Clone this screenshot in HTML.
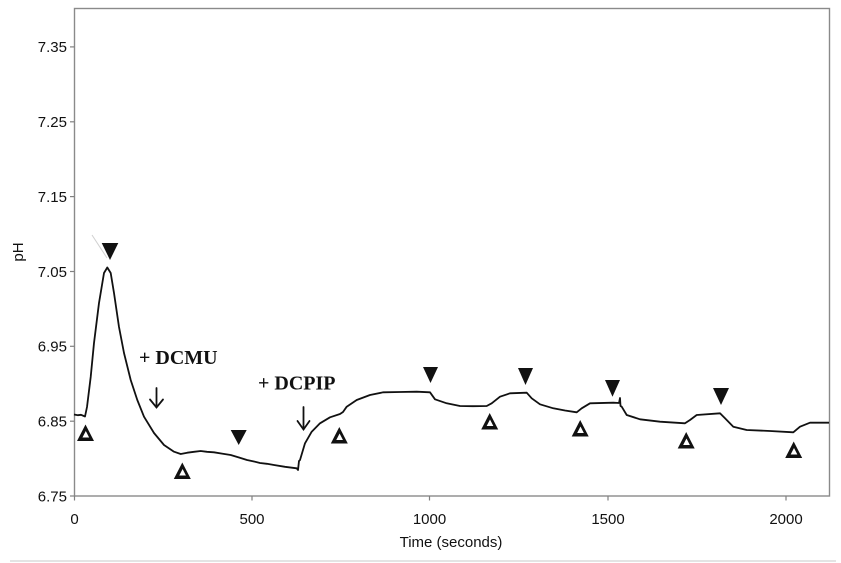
<!DOCTYPE html>
<html>
<head>
<meta charset="utf-8">
<style>
html,body{margin:0;padding:0;background:#fff;}
svg{display:block;}
</style>
</head>
<body>
<svg width="841" height="563" viewBox="0 0 841 563" xmlns="http://www.w3.org/2000/svg">
<rect x="0" y="0" width="841" height="563" fill="#fff"/>
<!-- frame -->
<rect x="74.5" y="8.5" width="755" height="487.5" fill="none" stroke="#8a8a8a" stroke-width="1.4"/>
<!-- ticks -->
<g stroke="#808080" stroke-width="1.2">
<line x1="70" y1="46.9" x2="74.5" y2="46.9"/>
<line x1="70" y1="121.8" x2="74.5" y2="121.8"/>
<line x1="70" y1="196.6" x2="74.5" y2="196.6"/>
<line x1="70" y1="271.5" x2="74.5" y2="271.5"/>
<line x1="70" y1="346.3" x2="74.5" y2="346.3"/>
<line x1="70" y1="421.2" x2="74.5" y2="421.2"/>
<line x1="70" y1="496" x2="74.5" y2="496"/>
<line x1="74.5" y1="496" x2="74.5" y2="500.5"/>
<line x1="252" y1="496" x2="252" y2="500.5"/>
<line x1="429.5" y1="496" x2="429.5" y2="500.5"/>
<line x1="608" y1="496" x2="608" y2="500.5"/>
<line x1="786" y1="496" x2="786" y2="500.5"/>
</g>
<g font-family="'Liberation Sans', Arial, sans-serif" font-size="15" fill="#111" text-anchor="end">
<text x="67" y="52">7.35</text>
<text x="67" y="127">7.25</text>
<text x="67" y="202">7.15</text>
<text x="67" y="277">7.05</text>
<text x="67" y="351.5">6.95</text>
<text x="67" y="426.5">6.85</text>
<text x="67" y="501.5">6.75</text>
</g>
<g font-family="'Liberation Sans', Arial, sans-serif" font-size="15" fill="#111" text-anchor="middle">
<text x="74.5" y="524">0</text>
<text x="252" y="524">500</text>
<text x="429.5" y="524">1000</text>
<text x="608" y="524">1500</text>
<text x="786" y="524">2000</text>
<text x="451" y="547">Time (seconds)</text>
<text x="0" y="0" transform="translate(23,252) rotate(-90)">pH</text>
</g>
<!-- faint line near peak -->
<line x1="92" y1="235" x2="107" y2="258" stroke="#d0d0d0" stroke-width="1"/>
<!-- curve -->
<polyline fill="none" stroke="#111" stroke-width="1.8" stroke-linejoin="round" points="
74,414.5 78,415.2 81,414.8 85,416.5 87,407 90.7,377 94,343 99,303 104,273 107.3,267.5 110.7,273 114,293 119,327 124,353 130.7,380 137.3,400 144,416.7 154,433 164,445 174,451.7 180.7,454 187.3,452.7 194,451.8 200.7,451 207,451.8 214,452.3 222,453.6 230.7,455 239,457.5 247,460 254,461.5 260,463 267,463.8 274,465 285,466.8 296.7,468.3 298,470 299,461 300,460 305,443.3 311.7,431.7 320,423.3 330,417.3 340,414 343,412 346.7,406.7 356.7,400 370,395 383.3,392.3 400,392 416.7,391.7 430,392.3 435,399.3 446.7,403.3 460,406 473,406.2 486.7,406 491.7,403.3 500,396.7 510,393.3 526.7,392.7 531.7,398.3 540,404.3 553.3,408.3 565,410.5 576.7,412.3 581.7,408.3 590,403.3 613.3,402.7 619,403 620,398 620.5,406 621.7,406.7 626.7,415 640,419.3 660,421.7 685,423.3 690,420 696.7,415 720,413.3 725,418.3 733.3,426.7 746.7,430 770,431 793.3,432.3 800,426.7 810,422.7 829,422.7"/>
<!-- open delta markers -->
<path fill="#111" fill-rule="evenodd" d="
M85.5,424.5 L77,441 L94,441 Z M85.8,431 L89.15,437.5 L82.45,437.5 Z
M182.3,462.5 L173.8,479 L190.8,479 Z M182.6,469 L185.95,475.5 L179.25,475.5 Z
M339.3,427 L330.8,443.5 L347.8,443.5 Z M339.6,433.5 L342.95,440 L336.25,440 Z
M489.7,413 L481.2,429.5 L498.2,429.5 Z M490,419.5 L493.35,426 L486.65,426 Z
M580.2,420 L571.7,436.5 L588.7,436.5 Z M580.5,426.5 L583.85,433 L577.15,433 Z
M686.2,432 L677.7,448.5 L694.7,448.5 Z M686.5,438.5 L689.85,445 L683.15,445 Z
M793.7,441.5 L785.2,458 L802.2,458 Z M794,448 L797.35,454.5 L790.65,454.5 Z"/>
<!-- filled triangles -->
<g fill="#111">
<polygon points="101.7,243 118.3,243 110,260"/>
<polygon points="230.7,430 246.7,430 238.7,445"/>
<polygon points="423,367 438,367 430.5,383"/>
<polygon points="518,368 533,368 525.5,385"/>
<polygon points="605,380 620,380 612.5,396.7"/>
<polygon points="713,388 729,388 721,405"/>
</g>
<!-- arrows -->
<g fill="none" stroke="#111" stroke-width="1.8" stroke-linecap="round">
<line x1="156.5" y1="388" x2="156.5" y2="407"/>
<polyline points="150,399.5 156.5,407.5 163,399.5"/>
<line x1="303.5" y1="407" x2="303.5" y2="429"/>
<polyline points="297.5,421 303.5,429.5 309.5,421"/>
</g>
<g font-family="'Liberation Serif', 'Times New Roman', serif" font-size="20" font-weight="bold" fill="#111">
<text x="139" y="364">+ DCMU</text>
<text x="258" y="389.5">+ DCPIP</text>
</g>
<!-- faint caption line at bottom -->
<rect x="10" y="560" width="826" height="2" fill="#e4e4e4"/>
</svg>
</body>
</html>
